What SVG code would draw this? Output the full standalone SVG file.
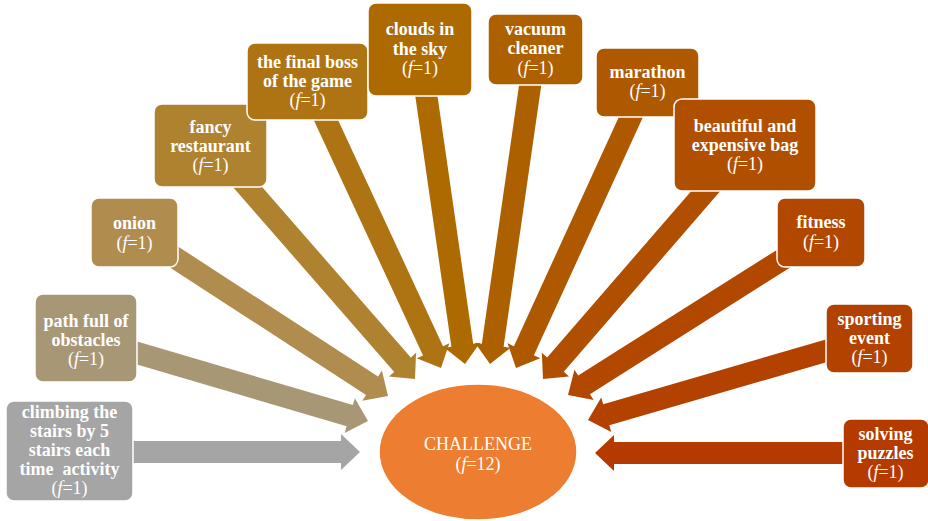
<svg xmlns="http://www.w3.org/2000/svg" xmlns:xlink="http://www.w3.org/1999/xlink" width="928" height="521" viewBox="0 0 928 521">
<style>
.lbl{font-family:"Liberation Serif","Times New Roman",serif;font-size:18px;font-weight:bold;fill:#fff;text-anchor:middle}
.f{font-weight:normal}
.i{font-style:italic}
.box{stroke:#fff;stroke-width:1.5}
.ctr{font-family:"Liberation Serif","Times New Roman",serif;font-size:18px;fill:#fff;text-anchor:middle}
</style>
<defs>
<path id="arr" d="M-320,-11 H-19 V-18 L0,0 L-19,18 V11 H-320 Z"/>
</defs>
<g id="connectors">
<use xlink:href="#arr" href="#arr" fill="#A5A5A5" transform="translate(360,452)"/>
<use xlink:href="#arr" href="#arr" fill="#A89775" transform="translate(368,421) rotate(16.4)"/>
<use xlink:href="#arr" href="#arr" fill="#B08D4E" transform="translate(388,396) rotate(33)"/>
<use xlink:href="#arr" href="#arr" fill="#AF8230" transform="translate(415,379) rotate(48.9)"/>
<use xlink:href="#arr" href="#arr" fill="#AE7414" transform="translate(441,368) rotate(65.1)"/>
<use xlink:href="#arr" href="#arr" fill="#AC6A00" transform="translate(465,364) rotate(81.8)"/>
<use xlink:href="#arr" href="#arr" fill="#AD6000" transform="translate(490,364) rotate(98.2)"/>
<use xlink:href="#arr" href="#arr" fill="#AE5800" transform="translate(516,368) rotate(114.6)"/>
<use xlink:href="#arr" href="#arr" fill="#B14F00" transform="translate(543,379) rotate(130.9)"/>
<use xlink:href="#arr" href="#arr" fill="#B24800" transform="translate(568,395) rotate(147.7)"/>
<use xlink:href="#arr" href="#arr" fill="#B34200" transform="translate(588,420) rotate(163.8)"/>
<use xlink:href="#arr" href="#arr" fill="#B53A00" transform="translate(595,453) rotate(180)"/>
</g>
<g id="challenge">
<ellipse cx="478" cy="452" rx="99" ry="68" fill="#ED7D31" stroke="#fff" stroke-width="1.5"/>
<text class="ctr"><tspan x="478" y="450">CHALLENGE</tspan><tspan x="478" y="470">(<tspan class="i">f</tspan>=12)</tspan></text>
</g>
<g id="n-climbing">
<rect class="box" x="6" y="401" width="127" height="100" rx="8" fill="#A5A5A5"/>
<text class="lbl"><tspan x="69.5" y="418">climbing the</tspan><tspan x="69.5" y="437">stairs by 5</tspan><tspan x="69.5" y="456">stairs each</tspan><tspan x="69.5" y="475">time&#160; activity</tspan><tspan class="f" x="69.5" y="494">(<tspan class="i">f</tspan>=1)</tspan></text>
</g>
<g id="n-path">
<rect class="box" x="35" y="294" width="102" height="88" rx="8" fill="#A89775"/>
<text class="lbl"><tspan x="86" y="327">path full of</tspan><tspan x="86" y="346">obstacles</tspan><tspan class="f" x="86" y="365">(<tspan class="i">f</tspan>=1)</tspan></text>
</g>
<g id="n-onion">
<rect class="box" x="91" y="198" width="87" height="69" rx="8" fill="#B08D4E"/>
<text class="lbl"><tspan x="134.5" y="229">onion</tspan><tspan class="f" x="134.5" y="249">(<tspan class="i">f</tspan>=1)</tspan></text>
</g>
<g id="n-fancy">
<rect class="box" x="154" y="104" width="113" height="83" rx="8" fill="#AF8230"/>
<text class="lbl"><tspan x="210.5" y="133">fancy</tspan><tspan x="210.5" y="152">restaurant</tspan><tspan class="f" x="210.5" y="171">(<tspan class="i">f</tspan>=1)</tspan></text>
</g>
<g id="n-boss">
<rect class="box" x="247" y="43" width="121" height="77" rx="8" fill="#AE7414"/>
<text class="lbl"><tspan x="307.5" y="68">the final boss</tspan><tspan x="307.5" y="87">of the game</tspan><tspan class="f" x="307.5" y="106">(<tspan class="i">f</tspan>=1)</tspan></text>
</g>
<g id="n-clouds">
<rect class="box" x="368" y="3" width="104" height="93" rx="8" fill="#AC6A00"/>
<text class="lbl"><tspan x="420" y="35">clouds in</tspan><tspan x="420" y="55">the sky</tspan><tspan class="f" x="420" y="74">(<tspan class="i">f</tspan>=1)</tspan></text>
</g>
<g id="n-vacuum">
<rect class="box" x="488" y="14" width="95" height="71" rx="8" fill="#AD6000"/>
<text class="lbl"><tspan x="535.5" y="35">vacuum</tspan><tspan x="535.5" y="54">cleaner</tspan><tspan class="f" x="535.5" y="74">(<tspan class="i">f</tspan>=1)</tspan></text>
</g>
<g id="n-marathon">
<rect class="box" x="596" y="48" width="103" height="69" rx="8" fill="#AE5800"/>
<text class="lbl"><tspan x="647.5" y="78">marathon</tspan><tspan class="f" x="647.5" y="97">(<tspan class="i">f</tspan>=1)</tspan></text>
</g>
<g id="n-bag">
<rect class="box" x="674" y="99" width="142" height="92" rx="8" fill="#B14F00"/>
<text class="lbl"><tspan x="745" y="132">beautiful and</tspan><tspan x="745" y="151">expensive bag</tspan><tspan class="f" x="745" y="170">(<tspan class="i">f</tspan>=1)</tspan></text>
</g>
<g id="n-fitness">
<rect class="box" x="777" y="198" width="88" height="69" rx="8" fill="#B24800"/>
<text class="lbl"><tspan x="821" y="228">fitness</tspan><tspan class="f" x="821" y="248">(<tspan class="i">f</tspan>=1)</tspan></text>
</g>
<g id="n-sporting">
<rect class="box" x="826" y="304" width="87" height="69" rx="8" fill="#B34200"/>
<text class="lbl"><tspan x="869.5" y="325">sporting</tspan><tspan x="869.5" y="344">event</tspan><tspan class="f" x="869.5" y="363">(<tspan class="i">f</tspan>=1)</tspan></text>
</g>
<g id="n-solving">
<rect class="box" x="843" y="419" width="86" height="69" rx="8" fill="#B53A00"/>
<text class="lbl"><tspan x="885.5" y="440">solving</tspan><tspan x="885.5" y="459">puzzles</tspan><tspan class="f" x="885.5" y="478">(<tspan class="i">f</tspan>=1)</tspan></text>
</g>
</svg>
